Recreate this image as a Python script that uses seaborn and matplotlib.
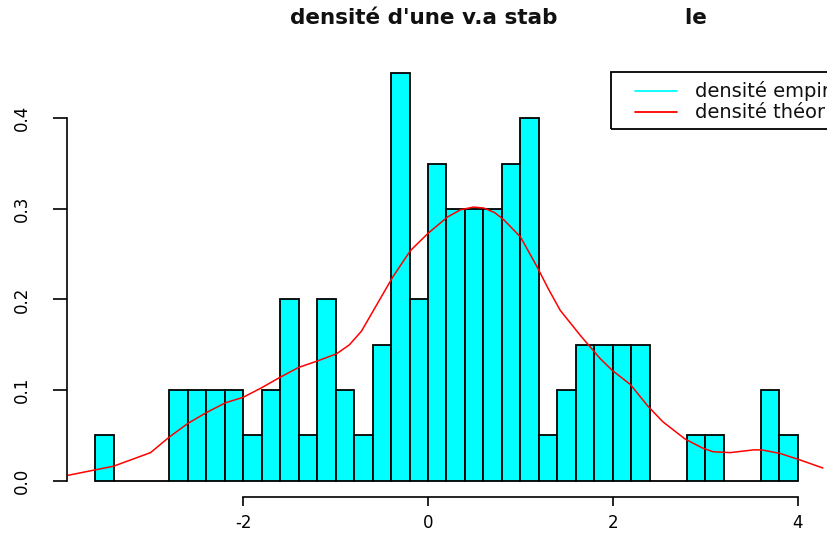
import numpy as np
import pandas as pd
import matplotlib
matplotlib.use("Agg")
import matplotlib.pyplot as plt
import seaborn as sns
from matplotlib.patches import Rectangle

# ---- data ----
bin_edges = [round(-3.6 + 0.2 * i, 1) for i in range(39)]  # -3.6 .. 4.0
bin_density = [0.05, 0, 0, 0, 0.10, 0.10, 0.10, 0.10, 0.05, 0.10,
               0.20, 0.05, 0.20, 0.10, 0.05, 0.15, 0.45, 0.20, 0.35, 0.30,
               0.30, 0.30, 0.35, 0.40, 0.05, 0.10, 0.15, 0.15, 0.15, 0.15,
               0, 0, 0.05, 0.05, 0, 0, 0.10, 0.05]
curve_x = [-3.89, -3.40, -3.00, -2.80, -2.60, -2.40, -2.19, -2.00, -1.81, -1.62,
           -1.40, -1.20, -0.99, -0.85, -0.72, -0.55, -0.38, -0.19, 0.00, 0.21,
           0.35, 0.49, 0.60, 0.72, 0.82, 1.00, 1.18, 1.30, 1.43, 1.65,
           1.86, 1.99, 2.19, 2.38, 2.54, 2.78, 2.97, 3.08, 3.27, 3.52,
           3.61, 3.81, 4.02, 4.27]
curve_y = [0.006, 0.016, 0.031, 0.048, 0.063, 0.075, 0.086, 0.092, 0.102, 0.113,
           0.125, 0.132, 0.140, 0.150, 0.165, 0.195, 0.225, 0.254, 0.273, 0.291,
           0.299, 0.302, 0.301, 0.296, 0.288, 0.269, 0.236, 0.212, 0.188, 0.160,
           0.135, 0.122, 0.106, 0.082, 0.065, 0.046, 0.036, 0.032, 0.031, 0.034,
           0.034, 0.030, 0.023, 0.014]
x_ticks = [-2, 0, 2, 4]
x_ticklabels = ["-2", "0", "2", "4"]
y_ticks = [0.0, 0.1, 0.2, 0.3, 0.4]
y_ticklabels = ["0.0", "0.1", "0.2", "0.3", "0.4"]
legend_labels = ["densité empirique", "densité théorique"]
legend_colors = ["cyan", "red"]
title = "densité d'une v.a stab" + " " * 17 + "le"

centers = [(bin_edges[i] + bin_edges[i + 1]) / 2 for i in range(len(bin_density))]
df = pd.DataFrame({"x": centers, "w": bin_density})
cdf = pd.DataFrame({"x": curve_x, "y": curve_y})

sns.set_style("white")
plt.rcParams["font.family"] = ["DejaVu Sans"]

W, H = 828, 535
fig = plt.figure(figsize=(W / 100, H / 100), dpi=100)
ax = fig.add_axes([67 / W, (H - 497) / H, (826 - 67) / W, (497 - 56.7) / H])

sns.histplot(data=df, x="x", weights="w", bins=bin_edges, stat="count",
             color="cyan", edgecolor="black", linewidth=1.3, alpha=1, ax=ax)
sns.lineplot(data=cdf, x="x", y="y", color="red", linewidth=1.1, ax=ax)

ax.set_xlim(-3.904, 4.304)
ax.set_ylim(-0.018, 0.468)
ax.set_xlabel("")
ax.set_ylabel("")

for s in ["top", "right"]:
    ax.spines[s].set_visible(False)
ax.spines["left"].set_bounds(0, 0.4)
ax.spines["bottom"].set_bounds(-2, 4)
for s in ["left", "bottom"]:
    ax.spines[s].set_color("black")
    ax.spines[s].set_linewidth(1.2)

ax.set_xticks(x_ticks)
ax.set_xticklabels(x_ticklabels, fontsize=12)
ax.set_yticks(y_ticks)
ax.set_yticklabels(y_ticklabels, fontsize=12, rotation=90, va="center")
ax.tick_params(axis="x", direction="out", length=6.5, width=1.2, pad=6, colors="black")
ax.tick_params(axis="y", direction="out", length=10, width=1.2, pad=16, colors="black")
ax.tick_params(axis="both", bottom=True, left=True)

# legend (placed at x=2, y=0.45, running off the right edge as in the reference)
ax.add_patch(Rectangle((1.98, 0.388), 5.0, 0.063, fill=False, edgecolor="black",
                       linewidth=1.3, clip_on=False, zorder=5))
for i, (lab, col) in enumerate(zip(legend_labels, legend_colors)):
    yy = 0.430 - i * 0.023
    ax.plot([2.24, 2.69], [yy, yy], color=col, linewidth=1.3, clip_on=False, zorder=6)
    ax.text(2.89, yy, lab, fontsize=14, va="center", ha="left", color="#111111",
            clip_on=False, zorder=6)

fig.text(290 / W, 1 - 18 / H, title, fontsize=15.5, fontweight="bold",
         ha="left", va="center", color="#111111")

fig.savefig("out.png", dpi=100)
